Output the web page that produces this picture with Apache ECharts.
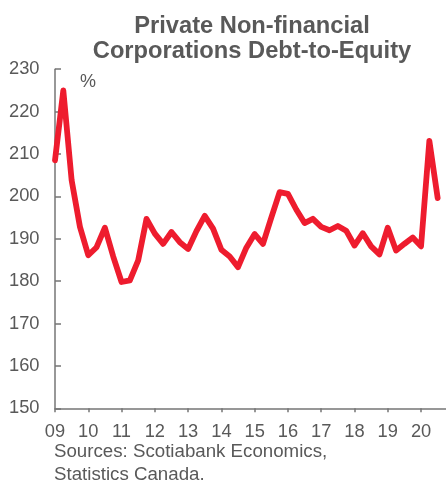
<!DOCTYPE html>
<html>
<head>
<meta charset="utf-8">
<script src="https://cdn.jsdelivr.net/npm/echarts@6/dist/echarts.min.js"></script>
<style>
  html, body { margin: 0; padding: 0; background: #ffffff; }
  #chart { width: 446px; height: 483px; }
</style>
</head>
<body>
<div id="chart"></div>
<script>
// Quarterly observations (quarter-end), debt-to-equity ratio in %
const quarters = [
  '2008Q4',
  '2009Q1', '2009Q2', '2009Q3', '2009Q4',
  '2010Q1', '2010Q2', '2010Q3', '2010Q4',
  '2011Q1', '2011Q2', '2011Q3', '2011Q4',
  '2012Q1', '2012Q2', '2012Q3', '2012Q4',
  '2013Q1', '2013Q2', '2013Q3', '2013Q4',
  '2014Q1', '2014Q2', '2014Q3', '2014Q4',
  '2015Q1', '2015Q2', '2015Q3', '2015Q4',
  '2016Q1', '2016Q2', '2016Q3', '2016Q4',
  '2017Q1', '2017Q2', '2017Q3', '2017Q4',
  '2018Q1', '2018Q2', '2018Q3', '2018Q4',
  '2019Q1', '2019Q2', '2019Q3', '2019Q4',
  '2020Q1', '2020Q2'
];
const debtToEquity = [
  208.5,
  225.0, 203.8, 192.8, 186.1,
  188.0, 192.6, 185.8, 179.8,
  180.2, 184.9, 194.7, 191.2,
  188.8, 191.6, 189.2, 187.6,
  191.8, 195.4, 192.4, 187.4,
  185.8, 183.3, 187.9, 191.1,
  188.8, 195.0, 201.0, 200.6,
  196.9, 193.7, 194.7, 192.8,
  192.0, 193.0, 191.9, 188.4,
  191.3, 188.2, 186.3, 192.6,
  187.2, 188.8, 190.3, 188.2,
  213.1, 199.6
];
const yearTicks = [2009, 2010, 2011, 2012, 2013, 2014, 2015, 2016, 2017, 2018, 2019, 2020];
const yearLabels = ['09', '10', '11', '12', '13', '14', '15', '16', '17', '18', '19', '20'];
const yTicks = [150, 160, 170, 180, 190, 200, 210, 220, 230];

const titleText = 'Private Non-financial\nCorporations Debt-to-Equity';
const unitText = '%';
const sourceText = 'Sources: Scotiabank Economics,\nStatistics Canada.';

// Position each quarter at its quarter-end on a decimal-year scale
function quarterEnd(label) {
  const year = parseInt(label.slice(0, 4), 10);
  const q = parseInt(label.slice(5), 10);
  return year + q / 4;
}
const seriesData = quarters.map((q, i) => [quarterEnd(q), debtToEquity[i]]);

const grey = '#595959';
const axisGrey = '#767676';
const font = '"Liberation Sans", Arial, sans-serif';

const chart = echarts.init(document.getElementById('chart'), null, { renderer: 'canvas' });
chart.setOption({
  animation: false,
  backgroundColor: '#ffffff',
  title: {
    text: titleText,
    left: 247,
    top: 9.5,
    textAlign: 'center',
    textStyle: {
      fontFamily: font,
      fontWeight: 'bold',
      fontSize: 23.7,
      lineHeight: 24.5,
      color: grey
    }
  },
  grid: {
    left: 55,
    right: 0,
    top: 69.2,
    bottom: 74.7,
    containLabel: false
  },
  xAxis: {
    type: 'value',
    min: 2009,
    max: 2020.75,
    interval: 1,
    splitLine: { show: false },
    axisLine: { show: true, lineStyle: { color: axisGrey, width: 1.5 } },
    axisTick: {
      show: true,
      length: 4,
      customValues: yearTicks,
      lineStyle: { color: axisGrey, width: 1.5 }
    },
    axisLabel: {
      customValues: yearTicks,
      margin: 14.7,
      color: grey,
      fontFamily: font,
      fontSize: 18.3,
      formatter: function (v) {
        const idx = yearTicks.indexOf(Math.round(v));
        return idx >= 0 ? yearLabels[idx] : '';
      }
    }
  },
  yAxis: {
    type: 'value',
    min: yTicks[0],
    max: yTicks[yTicks.length - 1],
    interval: 10,
    splitLine: { show: false },
    axisLine: { show: true, lineStyle: { color: axisGrey, width: 1.5 } },
    axisTick: {
      show: true,
      inside: true,
      length: 6,
      lineStyle: { color: axisGrey, width: 1.5 }
    },
    axisLabel: {
      margin: 15.5,
      color: grey,
      fontFamily: font,
      fontSize: 18.3,
      padding: [3, 0, 0, 0]
    }
  },
  graphic: [
    {
      type: 'text',
      left: 80,
      top: 72.7,
      style: {
        text: unitText,
        fill: grey,
        font: '18px ' + font
      }
    },
    {
      type: 'text',
      left: 54,
      top: 440,
      style: {
        text: sourceText,
        fill: grey,
        font: '18.7px ' + font,
        lineHeight: 23
      }
    }
  ],
  series: [
    {
      type: 'line',
      data: seriesData,
      showSymbol: false,
      symbol: 'none',
      smooth: false,
      lineStyle: {
        color: '#EE1C2E',
        width: 5.8,
        join: 'round',
        cap: 'round'
      }
    }
  ]
});
</script>
</body>
</html>
